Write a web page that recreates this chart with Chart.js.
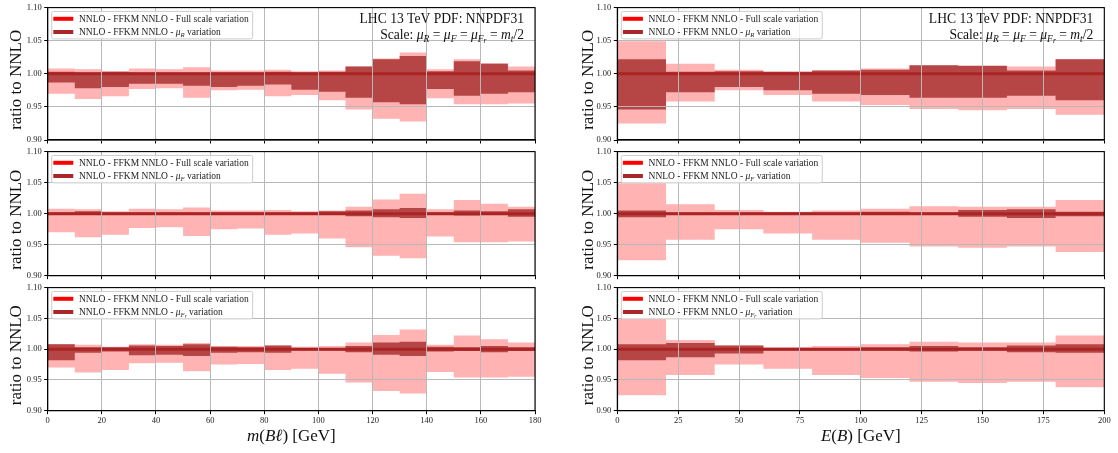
<!DOCTYPE html>
<html>
<head>
<meta charset="utf-8">
<script src="https://cdn.jsdelivr.net/npm/chart.js@4.4.1/dist/chart.umd.min.js"></script>
<style>
html, body { margin: 0; padding: 0; background: #fff; }
#wrap { position: relative; width: 1118px; height: 453px; overflow: hidden; }
canvas { position: absolute; }
</style>
</head>
<body>
<div id="wrap"></div>
<script>
// bin edges
const massEdges = [0, 10, 20, 30, 40, 50, 60, 70, 80, 90, 100, 110, 120, 130, 140, 150, 160, 170, 180];
const energyEdges = [0, 20, 40, 60, 80, 100, 120, 140, 160, 180, 200];

// tick labels
const massTicks = [0, 20, 40, 60, 80, 100, 120, 140, 160, 180];
const energyTicks = [0, 25, 50, 75, 100, 125, 150, 175, 200];
const ratioTicks = [0.90, 0.95, 1.00, 1.05, 1.10];

// m(Bl): full scale variation band
const massFullLo = [0.970, 0.962, 0.966, 0.977, 0.978, 0.964, 0.975, 0.976, 0.966, 0.968, 0.960, 0.946, 0.932, 0.928, 0.963, 0.954, 0.954, 0.955];
const massFullHi = [1.008, 1.007, 1.004, 1.008, 1.007, 1.010, 1.005, 1.005, 1.006, 1.004, 1.005, 1.011, 1.023, 1.032, 1.007, 1.022, 1.016, 1.011];
// m(Bl): single scale variations
const massMuRLo = [0.987, 0.978, 0.980, 0.985, 0.985, 0.982, 0.980, 0.982, 0.984, 0.976, 0.973, 0.964, 0.957, 0.954, 0.977, 0.967, 0.970, 0.972];
const massMuRHi = [1.003, 1.002, 1.003, 1.002, 1.002, 1.002, 1.002, 1.002, 1.003, 1.002, 1.003, 1.011, 1.022, 1.027, 1.004, 1.019, 1.015, 1.005];
const massMuFLo = [0.998, 0.999, 0.998, 0.998, 0.998, 0.998, 0.998, 0.998, 0.998, 0.998, 0.998, 0.996, 0.994, 0.993, 0.998, 0.997, 0.998, 0.995];
const massMuFHi = [1.002, 1.004, 1.002, 1.002, 1.002, 1.002, 1.002, 1.002, 1.002, 1.002, 1.004, 1.005, 1.007, 1.009, 1.002, 1.005, 1.004, 1.007];
const massMuFrLo = [0.982, 0.994, 0.996, 0.990, 0.991, 0.989, 0.994, 0.995, 0.994, 0.998, 0.998, 0.995, 0.991, 0.989, 0.996, 0.997, 0.995, 0.997];
const massMuFrHi = [1.008, 1.003, 1.003, 1.006, 1.005, 1.008, 1.004, 1.003, 1.006, 1.002, 1.002, 1.005, 1.011, 1.012, 1.004, 1.003, 1.005, 1.003];

// E(B): full scale variation band
const energyFullLo = [0.925, 0.958, 0.975, 0.968, 0.958, 0.953, 0.947, 0.945, 0.947, 0.938];
const energyFullHi = [1.049, 1.015, 1.006, 1.003, 1.005, 1.008, 1.012, 1.011, 1.011, 1.022];
// E(B): single scale variations
const energyMuRLo = [0.946, 0.972, 0.980, 0.975, 0.970, 0.968, 0.964, 0.964, 0.967, 0.960];
const energyMuRHi = [1.022, 1.003, 1.004, 1.003, 1.005, 1.006, 1.013, 1.012, 1.005, 1.022];
const energyMuFLo = [0.994, 0.998, 0.998, 0.998, 0.998, 0.998, 0.998, 0.995, 0.993, 0.996];
const energyMuFHi = [1.005, 1.002, 1.002, 1.002, 1.002, 1.003, 1.002, 1.006, 1.007, 1.003];
const energyMuFrLo = [0.982, 0.987, 0.993, 0.998, 0.998, 0.998, 0.996, 0.998, 0.995, 0.994];
const energyMuFrHi = [1.008, 1.010, 1.006, 1.002, 1.002, 1.003, 1.005, 1.003, 1.006, 1.008];

const FONT = "'Liberation Serif', 'DejaVu Serif', serif";
const PINK = '#ffb3b3';
const DARK = '#b64646';
const CENTRAL = '#ab2424';

// layout of the 2x3 grid (page pixels)
const cols = [
  { cx: 0, cw: 560, left: 47.7, right: 535, yTitleX: 20.7, edges: massEdges, ticks: massTicks, max: 180,
    xTitle: [['m', 'i'], ['(', ''], ['B\u2113', 'i'], [') [GeV]', '']],
    bands: [[massMuRLo, massMuRHi], [massMuFLo, massMuFHi], [massMuFrLo, massMuFrHi]], full: [massFullLo, massFullHi] },
  { cx: 560, cw: 558, left: 617.3, right: 1104.3, yTitleX: 33.3, edges: energyEdges, ticks: energyTicks, max: 200,
    xTitle: [['E', 'i'], ['(', ''], ['B', 'i'], [') [GeV]', '']],
    bands: [[energyMuRLo, energyMuRHi], [energyMuFLo, energyMuFHi], [energyMuFrLo, energyMuFrHi]], full: [energyFullLo, energyFullHi] }
];
const rows = [
  { cy: 0, ch: 150, top: 5, bottom: 140 },
  { cy: 144, ch: 140, top: 149.3, bottom: 275.7 },
  { cy: 280, ch: 173, top: 284.7, bottom: 410.7 }
];
const varNames = [[['R', 's']], [['F', 's']], [['F', 's'], ['r', 'ss']]];

function runParts(ctx, parts, size, draw, x, y) {
  let px = x;
  for (const [t, s] of parts) {
    const sz = s === 's' ? size * 0.7 : s === 'ss' ? size * 0.55 : size;
    const dy = s === 's' ? size * 0.2 : s === 'ss' ? size * 0.3 : 0;
    ctx.font = (s ? 'italic ' : '') + sz + 'px ' + FONT;
    if (draw) ctx.fillText(t, px, y + dy);
    px += ctx.measureText(t).width;
  }
  return px - x;
}

function drawRich(ctx, parts, x, y, size, align) {
  ctx.textAlign = 'left';
  ctx.textBaseline = 'alphabetic';
  const w = runParts(ctx, parts, size, false, 0, 0);
  const sx = align === 'right' ? x - w : align === 'center' ? x - w / 2 : x;
  runParts(ctx, parts, size, true, sx, y);
  return w;
}

const panelDeco = {
  id: 'panelDeco',
  afterDraw(chart, args, o) {
    const ctx = chart.ctx;
    const a = chart.chartArea;
    ctx.save();
    // frame
    ctx.strokeStyle = '#000';
    ctx.lineWidth = 1.1;
    ctx.strokeRect(a.left, a.top, a.right - a.left, a.bottom - a.top);

    // legend
    const labels = [
      [['NNLO - FFKM NNLO - Full scale variation', '']],
      [['NNLO - FFKM NNLO - ', ''], ['\u03bc', 'i']].concat(o.varName, [[' variation', '']])
    ];
    const colors = ['#ff0000', '#a82828'];
    const fs = 9.5;
    const tx = a.left + 31.3;
    let maxW = 0;
    labels.forEach(l => { maxW = Math.max(maxW, runParts(ctx, l, fs, false, 0, 0)); });
    const bx = a.left + 4, by = a.top + 3.8;
    const bw = tx + maxW + 4 - bx, bh = 27.5;
    ctx.beginPath();
    ctx.roundRect(bx, by, bw, bh, 2);
    ctx.fillStyle = 'rgba(255,255,255,0.8)';
    ctx.fill();
    ctx.strokeStyle = '#cccccc';
    ctx.lineWidth = 1;
    ctx.stroke();
    labels.forEach((l, k) => {
      const yy = a.top + 11.2 + k * 13.2;
      ctx.beginPath();
      ctx.strokeStyle = colors[k];
      ctx.lineWidth = 4;
      ctx.lineCap = 'butt';
      ctx.moveTo(a.left + 5.6, yy);
      ctx.lineTo(a.left + 25.6, yy);
      ctx.stroke();
      ctx.fillStyle = '#222';
      drawRich(ctx, l, tx, yy + fs * 0.33, fs, 'left');
    });

    // process info
    if (o.info) {
      ctx.fillStyle = '#111';
      drawRich(ctx, [['LHC 13 TeV PDF: NNPDF31', '']], a.right - 11, a.top + 15.3, 13.6, 'right');
      drawRich(ctx, [['Scale: ', ''], ['\u03bc', 'i'], ['R', 's'], [' = ', ''], ['\u03bc', 'i'], ['F', 's'],
        [' = ', ''], ['\u03bc', 'i'], ['F', 's'], ['r', 'ss'], [' = ', ''], ['m', 'i'], ['t', 's'], ['/2', '']],
        a.right - 11, a.top + 31.2, 13.6, 'right');
    }

    // axis titles
    ctx.fillStyle = '#111';
    ctx.save();
    ctx.translate(o.yTitleX, (a.top + a.bottom) / 2 + 6);
    ctx.rotate(-Math.PI / 2);
    drawRich(ctx, [['ratio to NNLO', '']], 0, 0, 17, 'center');
    ctx.restore();
    if (o.xTitle) {
      drawRich(ctx, o.xTitle, (a.left + a.right) / 2, a.bottom + 30, 17, 'center');
    }
    ctx.restore();
  }
};

function steps(edges, vals) {
  return edges.map((x, i) => ({ x: x, y: vals[Math.min(i, vals.length - 1)] }));
}

const wrap = document.getElementById('wrap');

function makePanel(ci, ri) {
  const c = cols[ci], r = rows[ri];
  const canvas = document.createElement('canvas');
  canvas.width = c.cw;
  canvas.height = r.ch;
  canvas.style.left = c.cx + 'px';
  canvas.style.top = r.cy + 'px';
  wrap.appendChild(canvas);

  const band = c.bands[ri];
  const central = c.edges.map(() => 1);
  const common = { stepped: true, pointRadius: 0, borderColor: 'rgba(0,0,0,0)', borderWidth: 0 };
  const datasets = [
    { data: steps(c.edges, central), stepped: true, pointRadius: 0, borderColor: CENTRAL, borderWidth: 3, fill: false },
    Object.assign({ data: steps(c.edges, band[1]), fill: '+1', backgroundColor: DARK }, common),
    Object.assign({ data: steps(c.edges, band[0]), fill: false }, common),
    Object.assign({ data: steps(c.edges, c.full[1]), fill: '+1', backgroundColor: PINK }, common),
    Object.assign({ data: steps(c.edges, c.full[0]), fill: false }, common)
  ];

  new Chart(canvas, {
    type: 'line',
    data: { datasets },
    options: {
      responsive: false,
      animation: false,
      devicePixelRatio: 1,
      events: [],
      layout: { padding: { left: 0, top: r.top - r.cy, right: c.cx + c.cw - c.right, bottom: 0 } },
      plugins: {
        legend: { display: false },
        tooltip: { enabled: false },
        panelDeco: {
          varName: varNames[ri],
          info: ri === 0,
          yTitleX: c.yTitleX,
          xTitle: ri === 2 ? c.xTitle : null
        }
      },
      scales: {
        x: {
          type: 'linear',
          min: 0,
          max: c.max,
          afterBuildTicks: s => { s.ticks = c.ticks.map(v => ({ value: v })); },
          afterFit: s => { s.height = r.cy + r.ch - r.bottom; },
          grid: { color: '#b8b8b8', lineWidth: 1, z: 1, tickLength: 3.5, tickColor: '#000', drawTicks: true },
          border: { display: true, color: '#000', width: 1.1, z: 2 },
          ticks: {
            display: true,
            color: ri === 2 ? '#222' : 'rgba(0,0,0,0)',
            font: { family: FONT, size: 8.5 },
            padding: 1.5,
            maxRotation: 0,
            autoSkip: false
          }
        },
        y: {
          type: 'linear',
          min: 0.9,
          max: 1.1,
          afterBuildTicks: s => { s.ticks = ratioTicks.map(v => ({ value: v })); },
          afterFit: s => { s.width = c.left - c.cx; },
          grid: {
            color: g => (g.tick && Math.abs(g.tick.value - 1) < 1e-6) ? 'rgba(0,0,0,0)' : '#b8b8b8',
            lineWidth: 1, z: 1, tickLength: 3.5, tickColor: '#000', drawTicks: true
          },
          border: { display: true, color: '#000', width: 1.1, z: 2 },
          ticks: {
            color: '#222',
            font: { family: FONT, size: 8.5 },
            padding: 2.5,
            callback: v => v.toFixed(2)
          }
        }
      }
    },
    plugins: [panelDeco]
  });
}

for (let ri = 0; ri < 3; ri++) {
  for (let ci = 0; ci < 2; ci++) makePanel(ci, ri);
}
</script>
</body>
</html>
